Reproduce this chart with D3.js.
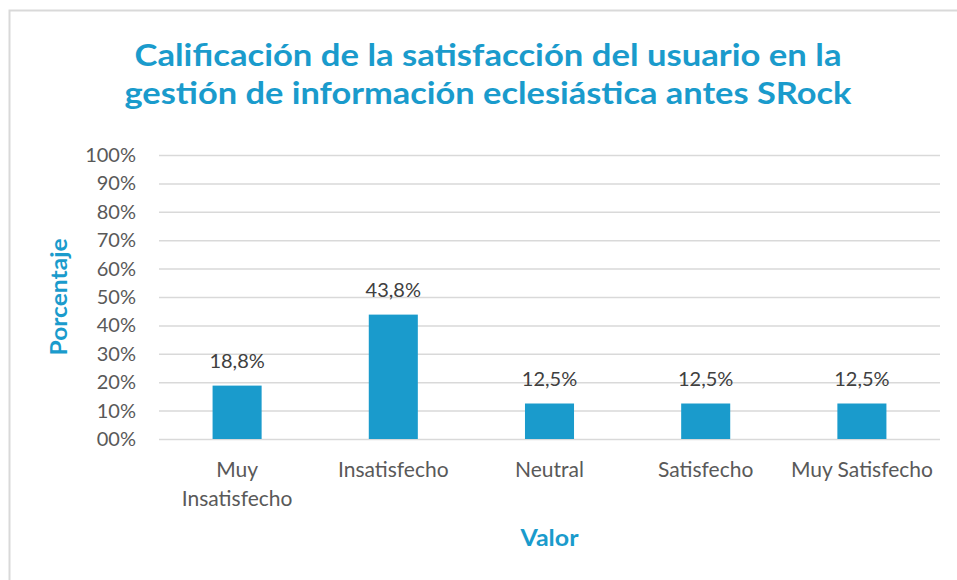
<!DOCTYPE html>
<html>
<head>
<meta charset="utf-8">
<script src="https://cdn.jsdelivr.net/npm/d3@7"></script>
<style>
  body { margin: 0; background: #fff; }
  text { font-family: Lato, "Open Sans", sans-serif; }
</style>
</head>
<body>
<div id="content"></div>
<script>
var w = 957;
var h = 580;

// data
var categories = ["Muy Insatisfecho", "Insatisfecho", "Neutral", "Satisfecho", "Muy Satisfecho"];
var tickLines = [["Muy", "Insatisfecho"], ["Insatisfecho"], ["Neutral"], ["Satisfecho"], ["Muy Satisfecho"]];
var values = [0.188, 0.438, 0.125, 0.125, 0.125];
var yTicks = [0, 0.1, 0.2, 0.3, 0.4, 0.5, 0.6, 0.7, 0.8, 0.9, 1];
var yTickLabels = ["00%", "10%", "20%", "30%", "40%", "50%", "60%", "70%", "80%", "90%", "100%"];
var titleLines = ["Calificación de la satisfacción del usuario en la",
                  "gestión de información eclesiástica antes SRock"];

var blue = "#1a9bcc";
var grey = "#595959";

var svg = d3.select("#content").append("svg")
  .attr("width", w)
  .attr("height", h);

svg.append("rect").attr("width", w).attr("height", h).attr("fill", "#fff");

// chart border (right and bottom run off the picture)
svg.append("rect")
  .attr("x", 9.5).attr("y", 10.5)
  .attr("width", 1000).attr("height", 700)
  .attr("fill", "none")
  .attr("stroke", "#d9d9d9")
  .attr("stroke-width", 2);

var x = d3.scaleBand()
  .domain(categories)
  .range([159, 940])
  .paddingInner(0.686)
  .paddingOuter(0.343);

var y = d3.scaleLinear()
  .domain([0, 1])
  .range([439, 155]);

// gridlines + y labels
var yAxis = svg.append("g")
  .attr("transform", "translate(159,0)")
  .call(d3.axisLeft(y)
    .tickValues(yTicks)
    .tickFormat(function(d, i){ return yTickLabels[i]; })
    .tickSize(-781)
    .tickPadding(23));
yAxis.select(".domain").remove();
yAxis.selectAll("line").attr("stroke", "#d9d9d9").attr("stroke-width", 1.5);
yAxis.selectAll("text")
  .attr("fill", grey)
  .style("font-size", "20px")
  .style("font-family", "Lato, sans-serif");

// bars
svg.append("g").selectAll("rect")
  .data(values)
  .enter()
  .append("rect")
  .attr("x", function(d, i){ return x(categories[i]); })
  .attr("y", function(d){ return y(d); })
  .attr("width", x.bandwidth())
  .attr("height", function(d){ return y(0) - y(d); })
  .attr("fill", blue);

// value labels with comma decimals
var es = d3.formatLocale({decimal: ",", thousands: ".", grouping: [3], currency: ["", "€"]});
var pct = es.format(".1%");

svg.append("g").selectAll("text")
  .data(values)
  .enter()
  .append("text")
  .attr("x", function(d, i){ return x(categories[i]) + x.bandwidth()/2; })
  .attr("y", function(d){ return y(d) - 18; })
  .attr("text-anchor", "middle")
  .attr("fill", "#404040")
  .style("font-size", "20px")
  .text(function(d){ return pct(d); });

// x axis labels
var xAxis = svg.append("g")
  .attr("transform", "translate(0,439)")
  .call(d3.axisBottom(x).tickSize(0));
xAxis.select(".domain").remove();
xAxis.selectAll("text")
  .attr("y", 38)
  .attr("dy", null)
  .attr("fill", grey)
  .style("font-size", "21px")
  .style("font-family", "Lato, sans-serif")
  .each(function(d, i){
    var t = d3.select(this).text(null);
    tickLines[i].forEach(function(line, k){
      t.append("tspan").attr("x", 0).attr("dy", k === 0 ? 0 : 29).text(line);
    });
  });

// title
var titleWidths = [707, 727];
svg.append("g").selectAll("text")
  .data(titleLines)
  .enter()
  .append("text")
  .attr("x", 488)
  .attr("y", function(d, i){ return 66 + i * 38; })
  .attr("text-anchor", "middle")
  .attr("fill", blue)
  .attr("textLength", function(d, i){ return titleWidths[i]; })
  .attr("lengthAdjust", "spacingAndGlyphs")
  .style("font-size", "31px")
  .style("font-weight", "bold")
  .text(function(d){ return d; });

// axis titles
svg.append("text")
  .attr("transform", "translate(67,297) rotate(-90)")
  .attr("text-anchor", "middle")
  .attr("fill", blue)
  .attr("textLength", 117)
  .attr("lengthAdjust", "spacingAndGlyphs")
  .style("font-size", "22px")
  .style("font-weight", "bold")
  .text("Porcentaje");

svg.append("text")
  .attr("x", 549.5)
  .attr("y", 546)
  .attr("text-anchor", "middle")
  .attr("fill", blue)
  .attr("textLength", 58)
  .attr("lengthAdjust", "spacingAndGlyphs")
  .style("font-size", "22px")
  .style("font-weight", "bold")
  .text("Valor");
</script>
</body>
</html>
